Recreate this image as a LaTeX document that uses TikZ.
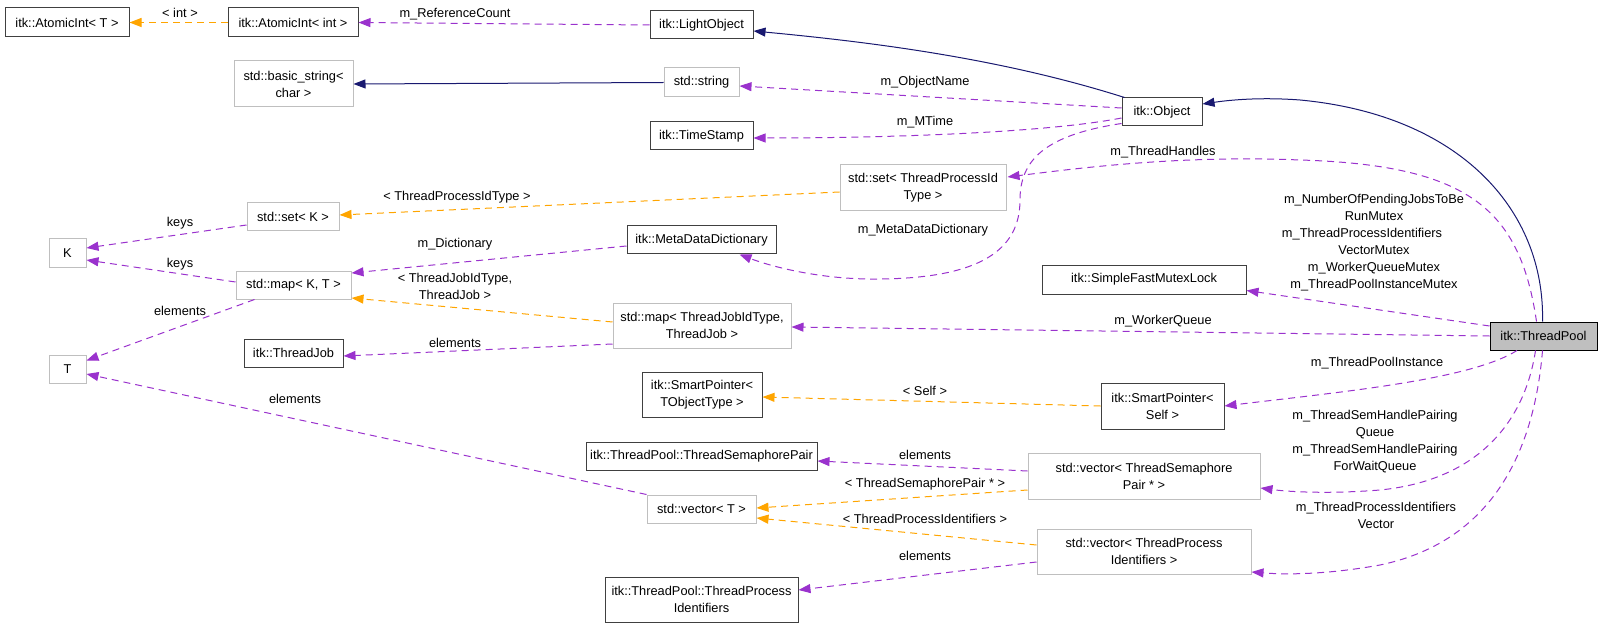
\documentclass[tikz,border=0pt]{standalone}
\usepackage{fontspec}
\setmainfont{Liberation Sans}
\usetikzlibrary{arrows.meta,calc}
\definecolor{edgepurple}{HTML}{9A32CD}
\definecolor{edgeorange}{HTML}{FFA500}
\definecolor{edgenavy}{HTML}{191970}
\definecolor{boxdark}{HTML}{404040}
\definecolor{boxgrey}{HTML}{BFBFBF}
\tikzset{
  txt/.style={font=\fontsize{12.8}{17}\selectfont, align=center, inner sep=0pt},
  docbox/.style={txt, draw=boxdark, line width=1pt, fill=white},
  extbox/.style={txt, draw=boxgrey, line width=1pt, fill=white},
  curbox/.style={txt, draw=black, line width=1pt, fill=boxgrey},
  tip/.style={-{Triangle[length=12pt,width=9pt]}},
  member/.style={tip, draw=edgepurple, line width=1pt, dash pattern=on 7pt off 5pt},
  templ/.style={tip, draw=edgeorange, line width=1pt, dash pattern=on 7pt off 5pt},
  inherit/.style={tip, draw=edgenavy, line width=1pt},
  lbl/.style={txt}
}
\begin{document}
\begin{tikzpicture}[x=1pt,y=-1pt]
\useasboundingbox (0,0) rectangle (1621,628);
% nodes
\node[docbox, minimum width=124, minimum height=29] (atomT) at (67,22.5) {itk::AtomicInt< T >};
\node[docbox, minimum width=130, minimum height=29] (atomInt) at (293,22.5) {itk::AtomicInt< int >};
\node[docbox, minimum width=103, minimum height=28] (light) at (701.5,25) {itk::LightObject};
\node[extbox, minimum width=119, minimum height=46] (bstr) at (293.5,84) {std::basic\_string<\\char >};
\node[extbox, minimum width=75, minimum height=29] (str) at (701.5,82.5) {std::string};
\node[docbox, minimum width=80, minimum height=28] (obj) at (1162,112) {itk::Object};
\node[docbox, minimum width=103, minimum height=28] (ts) at (701.5,136) {itk::TimeStamp};
\node[extbox, minimum width=166, minimum height=46] (setTPI) at (923,188) {std::set< ThreadProcessId\\Type >};
\node[extbox, minimum width=92, minimum height=28] (setK) at (293,217) {std::set< K >};
\node[extbox, minimum width=37, minimum height=28] (K) at (67.5,253) {K};
\node[extbox, minimum width=115, minimum height=28] (mapKT) at (293.5,285) {std::map< K, T >};
\node[docbox, minimum width=149, minimum height=28] (mdd) at (701.5,240) {itk::MetaDataDictionary};
\node[docbox, minimum width=204, minimum height=29] (sfml) at (1144,279.5) {itk::SimpleFastMutexLock};
\node[extbox, minimum width=37, minimum height=28] (T) at (67.5,369) {T};
\node[docbox, minimum width=99, minimum height=28] (tj) at (293.5,353) {itk::ThreadJob};
\node[extbox, minimum width=178, minimum height=45] (mapTJ) at (702,325.5) {std::map< ThreadJobIdType,\\ThreadJob >};
\node[docbox, minimum width=120, minimum height=45] (spT) at (702,394.5) {itk::SmartPointer<\\TObjectType >};
\node[curbox, minimum width=107, minimum height=28] (tp) at (1543.5,336) {itk::ThreadPool};
\node[docbox, minimum width=123, minimum height=46] (spS) at (1162.5,406) {itk::SmartPointer<\\Self >};
\node[docbox, minimum width=231, minimum height=28] (tsp) at (701.5,456) {itk::ThreadPool::ThreadSemaphorePair};
\node[extbox, minimum width=232, minimum height=46] (vTSP) at (1144,476) {std::vector< ThreadSemaphore\\Pair * >};
\node[extbox, minimum width=109, minimum height=28] (vT) at (701.5,509) {std::vector< T >};
\node[extbox, minimum width=214, minimum height=45] (vTPI) at (1144,551.5) {std::vector< ThreadProcess\\Identifiers >};
\node[docbox, minimum width=193, minimum height=45] (tpi) at (701.5,599.5) {itk::ThreadPool::ThreadProcess\\Identifiers};

% edges
\draw[templ] (atomInt.west) -- (atomT.east);
\node[lbl] (l1) at (180,13) {< int >};
\draw[member] (light.west) -- (atomInt.east);
\node[lbl] (l2) at (455,14) {m\_ReferenceCount};
\draw[inherit] ($(obj.north west)+(3,0)$) .. controls (1000,58) and (870,42) .. ($(light.east)+(0,6)$);
\draw[inherit] (str.west) -- (bstr.east);
\draw[member] ($(obj.west)+(0,-4)$) -- ($(str.east)+(0,3.5)$);
\node[lbl] (l3) at (925,82) {m\_ObjectName};
\draw[member] ($(obj.west)+(0,6)$) .. controls (1050,132) and (900,138) .. ($(ts.east)+(0,2)$);
\node[lbl] (l4) at (925,122) {m\_MTime};
\draw[member] ($(obj.south west)+(0,-3)$) .. controls (1045,135) and (1020,160) .. (1020,200)
   .. controls (1020,250) and (980,278) .. (880,279) .. controls (820,280) and (770,266) .. ($(mdd.south)+(38,0)$);
\node[lbl] (l5) at (923,230) {m\_MetaDataDictionary};
\draw[templ] ($(setTPI.west)+(0,4)$) -- ($(setK.east)+(0,-2)$);
\node[lbl] (l6) at (457,197) {< ThreadProcessIdType >};
\draw[member] ($(tp.north)+(-7,0)$) .. controls (1520,210) and (1470,165) .. (1300,160)
   .. controls (1180,155) and (1080,168) .. ($(setTPI.east)+(1,-11)$);
\node[lbl] (l7) at (1163,152) {m\_ThreadHandles};
\draw[inherit] ($(tp.north)+(-1,0)$) .. controls (1545,210) and (1460,115) .. (1300,100)
   .. controls (1260,97) and (1230,100) .. ($(obj.east)+(0,-8)$);
\draw[member] ($(setK.west)+(0,8)$) -- ($(K.east)+(0,-5)$);
\node[lbl] (l8) at (180,223) {keys};
\draw[member] ($(mapKT.west)+(0,-3)$) -- ($(K.east)+(0,7)$);
\node[lbl] (l9) at (180,264) {keys};
\draw[member] ($(mdd.west)+(0,6)$) -- ($(mapKT.east)+(0,-12)$);
\node[lbl] (l10) at (455,244) {m\_Dictionary};
\draw[templ] ($(mapTJ.west)+(0,-3.5)$) -- ($(mapKT.east)+(0,13)$);
\node[lbl] (l11) at (455,286) {< ThreadJobIdType,\\ThreadJob >};
\draw[member] ($(mapKT.south west)+(19,0)$) -- ($(T.north east)+(0,6)$);
\node[lbl] (l12) at (180,311) {elements};
\draw[member] ($(mapTJ.west)+(0,18.5)$) -- ($(tj.east)+(0,3)$);
\node[lbl] (l13) at (455,343) {elements};
\draw[member] (vT.north west) -- ($(T.east)+(0,5)$);
\node[lbl] (l14) at (295,399) {elements};
\draw[member] ($(tp.west)+(0,-10)$) -- ($(sfml.east)+(0,11)$);
\node[lbl] (l15) at (1374,243) {m\_NumberOfPendingJobsToBe\\RunMutex\\\mbox{m\_ThreadProcessIdentifiers\hspace{24pt}}\\VectorMutex\\m\_WorkerQueueMutex\\m\_ThreadPoolInstanceMutex};
\draw[member] (tp.west) -- ($(mapTJ.east)+(0,1.5)$);
\node[lbl] (l16) at (1163,321) {m\_WorkerQueue};
\draw[templ] (spS.west) -- ($(spT.east)+(0,2.5)$);
\node[lbl] (l17) at (925,391) {< Self >};
\draw[member] ($(tp.south)+(-26.5,0)$) .. controls (1470,380) and (1340,392) .. (spS.east);
\node[lbl] (l18) at (1377,363) {m\_ThreadPoolInstance};
\draw[member] ($(vTSP.west)+(0,-5)$) -- ($(tsp.east)+(0,5)$);
\node[lbl] (l19) at (925,455) {elements};
\draw[templ] ($(vTSP.west)+(0,14)$) -- ($(vT.east)+(0,-1)$);
\node[lbl] (l20) at (925,484) {< ThreadSemaphorePair * >};
\draw[templ] ($(vTPI.west)+(0,-6.5)$) -- ($(vT.east)+(0,9)$);
\node[lbl] (l21) at (925,519) {< ThreadProcessIdentifiers >};
\draw[member] ($(vTPI.west)+(0,10.5)$) -- ($(tpi.east)+(0,-9.5)$);
\node[lbl] (l22) at (925,556) {elements};
\draw[member] ($(tp.south)+(-8,0)$) .. controls (1525,420) and (1480,480) .. (1380,490)
   .. controls (1330,494) and (1290,492) .. ($(vTSP.east)+(0,12)$);
\node[lbl] (l23) at (1375,441.5) {m\_ThreadSemHandlePairing\\Queue\\m\_ThreadSemHandlePairing\\ForWaitQueue};
\draw[member] ($(tp.south)+(-1,0)$) .. controls (1535,440) and (1500,540) .. (1380,565)
   .. controls (1330,574) and (1290,575) .. ($(vTPI.east)+(0,20.5)$);
\node[lbl] (l24) at (1376,515.5) {m\_ThreadProcessIdentifiers\\Vector};
\end{tikzpicture}
\end{document}
